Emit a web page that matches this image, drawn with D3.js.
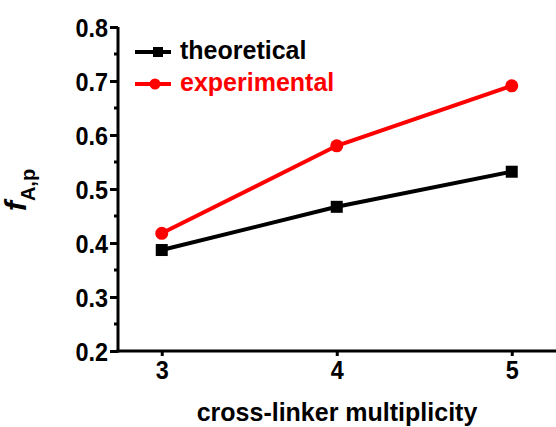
<!DOCTYPE html>
<html>
<head>
<meta charset="utf-8">
<script src="https://cdn.jsdelivr.net/npm/d3@7"></script>
<style>
  body { margin: 0; background: #fff; }
  text { font-family: "Liberation Sans", Arial, sans-serif; font-weight: bold; }
</style>
</head>
<body>
<div id="chart"></div>
<script>
// data
var multiplicity = [3, 4, 5];
var theoretical = [0.387, 0.467, 0.532];
var experimental = [0.418, 0.580, 0.691];
var yTicks = [0.2, 0.3, 0.4, 0.5, 0.6, 0.7, 0.8];
var yMinor = [0.25, 0.35, 0.45, 0.55, 0.65, 0.75];
var seriesNames = ["theoretical", "experimental"];

var width = 556, height = 427;
var svg = d3.select("#chart").append("svg")
  .attr("width", width)
  .attr("height", height);

var x = d3.scaleLinear().domain([2.75, 5.25]).range([118, 555.5]);
var y = d3.scaleLinear().domain([0.2, 0.8]).range([351, 27]);
var sx = 0.9; // the tick font looks a bit narrow

// y axis
var yAxis = svg.append("g")
  .attr("transform", "translate(118,0)")
  .call(d3.axisLeft(y).tickValues(yTicks).tickFormat(d3.format(".1f")).tickSize(8).tickPadding(3));
yAxis.select(".domain").attr("stroke-width", 3).attr("d", "M0," + y(0.8) + "V" + (y(0.2) + 1.5));
yAxis.selectAll(".tick line").attr("stroke-width", 3);
yAxis.selectAll(".tick text")
  .attr("font-size", 26).attr("fill", "#000").attr("dy", "0.36em")
  .attr("x", -10 / sx)
  .attr("transform", "scale(" + sx + ",1)");
yAxis.selectAll(".minor").data(yMinor).enter().append("line")
  .attr("class", "minor")
  .attr("x1", -4).attr("x2", 0)
  .attr("y1", function(d) { return y(d); })
  .attr("y2", function(d) { return y(d); })
  .attr("stroke", "#000").attr("stroke-width", 3);

// x axis
var xAxis = svg.append("g")
  .attr("transform", "translate(0,351)")
  .call(d3.axisBottom(x).tickValues(multiplicity).tickFormat(d3.format("d")).tickSize(5).tickPadding(5));
xAxis.select(".domain").attr("stroke-width", 3).attr("d", "M116.5,0H556");
xAxis.selectAll(".tick line").attr("stroke-width", 3);
xAxis.selectAll(".tick text")
  .attr("font-size", 26).attr("fill", "#000")
  .attr("transform", "scale(" + sx + ",1)");

// axis titles
svg.append("text")
  .attr("x", 337).attr("y", 421)
  .attr("text-anchor", "middle")
  .attr("font-size", 25)
  .text("cross-linker multiplicity");

var ylab = svg.append("text")
  .attr("transform", "translate(26,190) rotate(-90)")
  .attr("text-anchor", "middle");
ylab.append("tspan").attr("font-size", 30).attr("font-style", "italic").text("f");
ylab.append("tspan").attr("font-size", 20).attr("dy", 9).text("A,p");

// lines
var line = d3.line()
  .x(function(d, i) { return x(multiplicity[i]); })
  .y(function(d) { return y(d); });

svg.append("path").datum(theoretical)
  .attr("d", line).attr("fill", "none").attr("stroke", "#000").attr("stroke-width", 4);
svg.append("path").datum(experimental)
  .attr("d", line).attr("fill", "none").attr("stroke", "#ff0000").attr("stroke-width", 4);

svg.selectAll(".sq").data(theoretical).enter().append("rect")
  .attr("x", function(d, i) { return x(multiplicity[i]) - 6; })
  .attr("y", function(d) { return y(d) - 6; })
  .attr("width", 12).attr("height", 12)
  .attr("fill", "#000");
svg.selectAll(".dot").data(experimental).enter().append("circle")
  .attr("cx", function(d, i) { return x(multiplicity[i]); })
  .attr("cy", function(d) { return y(d); })
  .attr("r", 6.5)
  .attr("fill", "#ff0000");

// legend
var legend = svg.append("g");
var colors = ["#000", "#ff0000"];
seriesNames.forEach(function(name, i) {
  var ly = 52 + i * 32;
  legend.append("line")
    .attr("x1", 135).attr("x2", 171).attr("y1", ly).attr("y2", ly)
    .attr("stroke", colors[i]).attr("stroke-width", 4);
  if (i == 0) {
    legend.append("rect").attr("x", 153).attr("y", ly - 5).attr("width", 10).attr("height", 10).attr("fill", colors[i]);
  } else {
    legend.append("circle").attr("cx", 155).attr("cy", ly).attr("r", 5.5).attr("fill", colors[i]);
  }
  legend.append("text")
    .attr("x", 180).attr("y", ly + 7)
    .attr("font-size", 25)
    .attr("fill", colors[i])
    .text(name);
});
</script>
</body>
</html>
